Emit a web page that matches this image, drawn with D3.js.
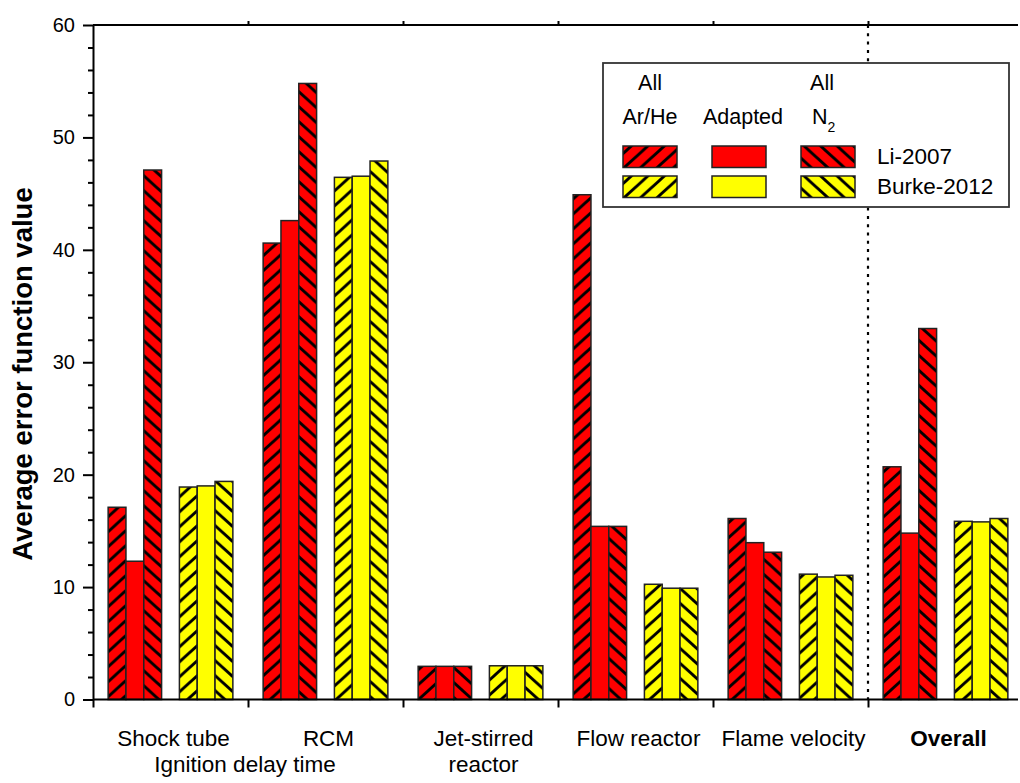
<!DOCTYPE html>
<html>
<head>
<meta charset="utf-8">
<script src="https://cdn.jsdelivr.net/npm/d3@7"></script>
<style>
  body { margin: 0; background: #fff; }
  text { font-family: "Liberation Sans", Arial, sans-serif; fill: #000; }
</style>
</head>
<body>
<script>
// ---- data ----
const categories = ["Shock tube", "RCM", "Jet-stirred reactor", "Flow reactor", "Flame velocity", "Overall"];
const li_allArHe    = [17.1, 40.6, 2.95, 44.9, 16.1, 20.7];
const li_adapted    = [12.3, 42.6, 2.95, 15.4, 13.95, 14.8];
const li_allN2      = [47.1, 54.8, 2.95, 15.4, 13.1, 33.0];
const burke_allArHe = [18.9, 46.45, 3.0, 10.25, 11.15, 15.85];
const burke_adapted = [19.0, 46.55, 3.0, 9.9, 10.9, 15.8];
const burke_allN2   = [19.4, 47.9, 3.0, 9.9, 11.05, 16.1];
const yTicks = [0, 10, 20, 30, 40, 50, 60];
const yMinorTicks = [2, 4, 6, 8, 12, 14, 16, 18, 22, 24, 26, 28, 32, 34, 36, 38, 42, 44, 46, 48, 52, 54, 56, 58];
const seriesKeys = ["li_allArHe", "li_adapted", "li_allN2", "gap", "burke_allArHe", "burke_adapted", "burke_allN2"];
const seriesInfo = {
  li_allArHe:    {values: li_allArHe,    fill: "url(#fwd-red)"},
  li_adapted:    {values: li_adapted,    fill: "#ff0000"},
  li_allN2:      {values: li_allN2,      fill: "url(#bwd-red)"},
  burke_allArHe: {values: burke_allArHe, fill: "url(#fwd-yel)"},
  burke_adapted: {values: burke_adapted, fill: "#ffff00"},
  burke_allN2:   {values: burke_allN2,   fill: "url(#bwd-yel)"}
};

// ---- layout ----
const W = 1020, H = 783;
const mLeft = 93, mTop = 25, mBottom = 699.5, groupW = 155, mRight = 1018;

const svg = d3.select("body").append("svg").attr("width", W).attr("height", H);

// patterns
const defs = svg.append("defs");
function hatch(id, color, forward) {
  const pw = 16.5, ph = 15;
  const p = defs.append("pattern").attr("id", id).attr("patternUnits", "userSpaceOnUse")
    .attr("width", pw).attr("height", ph);
  p.append("rect").attr("width", pw).attr("height", ph).attr("fill", color);
  const d = forward
    ? `M0,${ph} L${pw},0 M${-pw/4},${ph/4} L${pw/4},${-ph/4} M${pw*3/4},${ph*5/4} L${pw*5/4},${ph*3/4}`
    : `M0,0 L${pw},${ph} M${-pw/4},${ph*3/4} L${pw/4},${ph*5/4} M${pw*3/4},${-ph/4} L${pw*5/4},${ph/4}`;
  p.append("path").attr("d", d).attr("stroke", "#000").attr("stroke-width", 2.8);
}
hatch("fwd-red", "#ff0000", true);
hatch("bwd-red", "#ff0000", false);
hatch("fwd-yel", "#ffff00", true);
hatch("bwd-yel", "#ffff00", false);

// scales
const x = d3.scaleBand().domain(categories).range([mLeft, mLeft + groupW * categories.length]).padding(0);
const xb = d3.scaleLinear().domain([0, categories.length]).range([mLeft, mLeft + groupW * categories.length]);
const inner = d3.scaleBand().domain(seriesKeys).range([0, x.bandwidth()]).paddingInner(0).paddingOuter(0.85);
const y = d3.scaleLinear().domain([0, 60]).range([mBottom, mTop]);

// dotted separator before "Overall"
svg.append("line")
  .attr("x1", xb(5)).attr("x2", xb(5)).attr("y1", y(60)).attr("y2", y(0))
  .attr("stroke", "#000").attr("stroke-width", 2.2).attr("stroke-dasharray", "3,5.3");

// bars
const barData = [];
categories.forEach((c, i) => {
  seriesKeys.forEach(k => {
    if (k === "gap") return;
    barData.push({cat: c, key: k, value: seriesInfo[k].values[i]});
  });
});
svg.append("g").selectAll("rect").data(barData).join("rect")
  .attr("x", d => x(d.cat) + inner(d.key))
  .attr("width", inner.bandwidth())
  .attr("y", d => y(d.value))
  .attr("height", d => y(0) - y(d.value))
  .attr("fill", d => seriesInfo[d.key].fill)
  .attr("stroke", "#222").attr("stroke-width", 1.5);

// axes
const axisStyle = g => {
  g.attr("font-size", 20).attr("font-family", "Liberation Sans, Arial, sans-serif");
  g.selectAll("path, line").attr("stroke", "#000").attr("stroke-width", 2);
  g.selectAll("text").attr("font-size", 20).attr("fill", "#000");
};
svg.append("g").attr("transform", `translate(${mLeft},0)`)
  .call(d3.axisLeft(y).tickValues(yMinorTicks).tickSize(5).tickFormat("").tickSizeOuter(0))
  .call(axisStyle).call(g => g.select(".domain").remove());
svg.append("g").attr("transform", `translate(${mLeft},0)`)
  .call(d3.axisLeft(y).tickValues(yTicks).tickSize(10).tickPadding(8).tickSizeOuter(0))
  .call(axisStyle);

const bAxis = svg.append("g").attr("transform", `translate(0,${y(0)})`)
  .call(d3.axisBottom(xb).tickValues([0, 1, 2, 3, 4, 5]).tickSize(8).tickFormat("").tickSizeOuter(0))
  .call(axisStyle);
bAxis.select(".domain").attr("d", `M${mLeft},0H${mRight}`);
const tAxis = svg.append("g").attr("transform", `translate(0,${y(60)})`)
  .call(d3.axisTop(xb).tickValues([1, 2, 3, 4, 5]).tickSize(4).tickFormat("").tickSizeOuter(0))
  .call(axisStyle);
tAxis.select(".domain").attr("d", `M${mLeft},0H${mRight}`);

// category labels
const catLines = {
  "Shock tube": ["Shock tube"],
  "RCM": ["RCM"],
  "Jet-stirred reactor": ["Jet-stirred", "reactor"],
  "Flow reactor": ["Flow reactor"],
  "Flame velocity": ["Flame velocity"],
  "Overall": ["Overall"]
};
categories.forEach(c => {
  catLines[c].forEach((t, j) => {
    svg.append("text")
      .attr("x", x(c) + x.bandwidth() / 2 + 3)
      .attr("y", 746 + j * 26)
      .attr("text-anchor", "middle")
      .attr("font-size", 22.5)
      .attr("font-weight", c === "Overall" ? "bold" : "normal")
      .text(t);
  });
});
svg.append("text").attr("x", x("RCM") - 3).attr("y", 772)
  .attr("text-anchor", "middle").attr("font-size", 22.5).text("Ignition delay time");

// y title
svg.append("text")
  .attr("transform", `translate(32,374) rotate(-90)`)
  .attr("text-anchor", "middle")
  .attr("font-size", 27.5).attr("font-weight", "bold")
  .text("Average error function value");

// legend
const lg = svg.append("g");
lg.append("rect").attr("x", 603).attr("y", 63).attr("width", 406).attr("height", 144)
  .attr("fill", "#fff").attr("stroke", "#333").attr("stroke-width", 1.8);
lg.append("text").attr("x", 650).attr("y", 90).attr("text-anchor", "middle").attr("font-size", 21.5).text("All");
lg.append("text").attr("x", 822).attr("y", 90).attr("text-anchor", "middle").attr("font-size", 21.5).text("All");
lg.append("text").attr("x", 650).attr("y", 124).attr("text-anchor", "middle").attr("font-size", 21.5).text("Ar/He");
lg.append("text").attr("x", 743).attr("y", 124).attr("text-anchor", "middle").attr("font-size", 21.5).text("Adapted");
const n2 = lg.append("text").attr("x", 812).attr("y", 124).attr("font-size", 21.5);
n2.append("tspan").text("N");
n2.append("tspan").attr("font-size", 14).attr("dy", 8).text("2");
const legRows = [
  {label: "Li-2007", keys: ["li_allArHe", "li_adapted", "li_allN2"], y: 146},
  {label: "Burke-2012", keys: ["burke_allArHe", "burke_adapted", "burke_allN2"], y: 176}
];
legRows.forEach(r => {
  r.keys.forEach((k, j) => {
    lg.append("rect").attr("x", 623 + j * 89).attr("y", r.y).attr("width", 54).attr("height", 21.5)
      .attr("fill", seriesInfo[k].fill).attr("stroke", "#222").attr("stroke-width", 1.5);
  });
  lg.append("text").attr("x", 877).attr("y", r.y + 17.5).attr("font-size", 22.5).text(r.label);
});
</script>
</body>
</html>
